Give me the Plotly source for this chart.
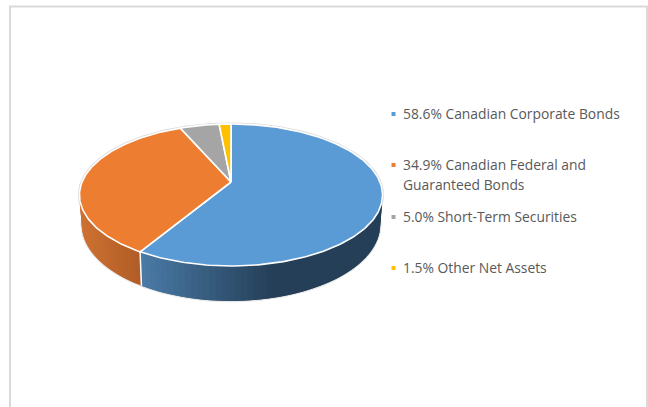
import math
import plotly.graph_objects as go

categories = ["Canadian Corporate Bonds", "Canadian Federal and<br>Guaranteed Bonds",
              "Short-Term Securities", "Other Net Assets"]
shares = [58.6, 34.9, 5.0, 1.5]
colors = ["#5b9bd5", "#ed7d31", "#a5a5a5", "#ffc000"]

W, H = 648, 407
CX, CY, A, B, K, D = 231.0, 182.0, 149.0, 68.6, 0.183, 28.6
INSET = 0.985
side_stops = {
    0: ((141, (74, 122, 166)), (273, (36, 63, 87))),
    1: ((79, (206, 114, 50)), (141, (176, 92, 38))),
}
LEGEND_X, LEGEND_Y, LINE_GAP = 401, [114, 165, 217, 268], 20.5


def top(t):
    u, v = math.sin(t), -math.cos(t)
    s = 1 / (1 - K * v)
    return CX + A * u * s, CY + B * v * s


def bottom(t):
    x, y = top(t)
    v = -math.cos(t)
    return CX + (x - CX) * INSET, y + D / (1 - K * v)


def arc(fn, a0, a1, step=1.0):
    n = max(2, int(abs(a1 - a0) / step) + 1)
    return [fn(math.radians(a0 + (a1 - a0) * i / (n - 1))) for i in range(n)]


def mix(stops, x):
    (x0, c0), (x1, c1) = stops
    f = min(1, max(0, (x - x0) / (x1 - x0)))
    return "rgb(%d,%d,%d)" % tuple(round(a + (b - a) * f) for a, b in zip(c0, c1))


fig = go.Figure()


def poly(pts, fill=None, line=None, width=0, close=True):
    xs, ys = zip(*pts)
    xs, ys = list(xs), list(ys)
    if close:
        xs.append(xs[0])
        ys.append(ys[0])
    fig.add_trace(go.Scatter(x=xs, y=ys, mode="lines",
                             fill="toself" if fill else "none", fillcolor=fill,
                             line=dict(color=line or fill or "white", width=width),
                             hoverinfo="skip", showlegend=False))


# soft outer halo
poly(arc(top, 0, 360), line="#dcdcdc", width=3.2, close=True)
poly(arc(bottom, 80, 280), line="#e6e6e6", width=2.6, close=False)

# rim strips (each overlaps the next so no seams show)
bounds, c = [], 0.0
for s in shares:
    bounds.append((c, c + s * 3.6))
    c += s * 3.6
for i, (a0, a1) in enumerate(bounds[:2]):
    lo = max(a0, 60)
    hi = min(a1, 300)
    n = int((hi - lo) / 2)
    for j in range(n):
        t0 = lo + (hi - lo) * j / n
        t1 = lo + (hi - lo) * (j + 1) / n
        end = min(hi, t1 + 2)
        pts = arc(top, t0, end) + arc(bottom, end, t0)
        col = mix(side_stops[i], top(math.radians((t0 + t1) / 2))[0])
        poly(pts, fill=col, width=0)

# seam between the two visible rim faces
a = math.radians(bounds[0][1])
poly([top(a), bottom(a)], line="white", width=1.5, close=False)

# top faces
for i, (a0, a1) in enumerate(bounds):
    poly([(CX, CY)] + arc(top, a0, a1), fill=colors[i], line="white", width=1.6)

# legend
for i, (s, name) in enumerate(zip(shares, categories)):
    fig.add_trace(go.Scatter(x=[LEGEND_X - 7.5], y=[LEGEND_Y[i]], mode="markers",
                             marker=dict(symbol="square", size=4, color=colors[i]),
                             hoverinfo="skip", showlegend=False))
    for k, part in enumerate(f"{s:.1f}% {name}".split("<br>")):
        fig.add_annotation(x=LEGEND_X, y=LEGEND_Y[i] - 1 + k * LINE_GAP,
                           text=part, showarrow=False, xanchor="left",
                           yanchor="middle", align="left", xref="x", yref="y",
                           font=dict(family="Open Sans", size=13.85, color="#595959"))

fig.update_layout(
    width=W, height=H, margin=dict(l=0, r=0, t=0, b=0),
    paper_bgcolor="white", plot_bgcolor="white", showlegend=False,
    xaxis=dict(range=[0, W], visible=False, fixedrange=True),
    yaxis=dict(range=[H, 0], visible=False, fixedrange=True),
    shapes=[dict(type="rect", xref="x", yref="y", x0=10, y0=6.5, x1=647, y1=H + 20,
                 line=dict(color="#d9d9d9", width=2), layer="below")],
)
fig.write_html("out.html", config=dict(displayModeBar=False),
               post_script="document.body.style.margin='0';document.body.style.overflow='hidden';")
